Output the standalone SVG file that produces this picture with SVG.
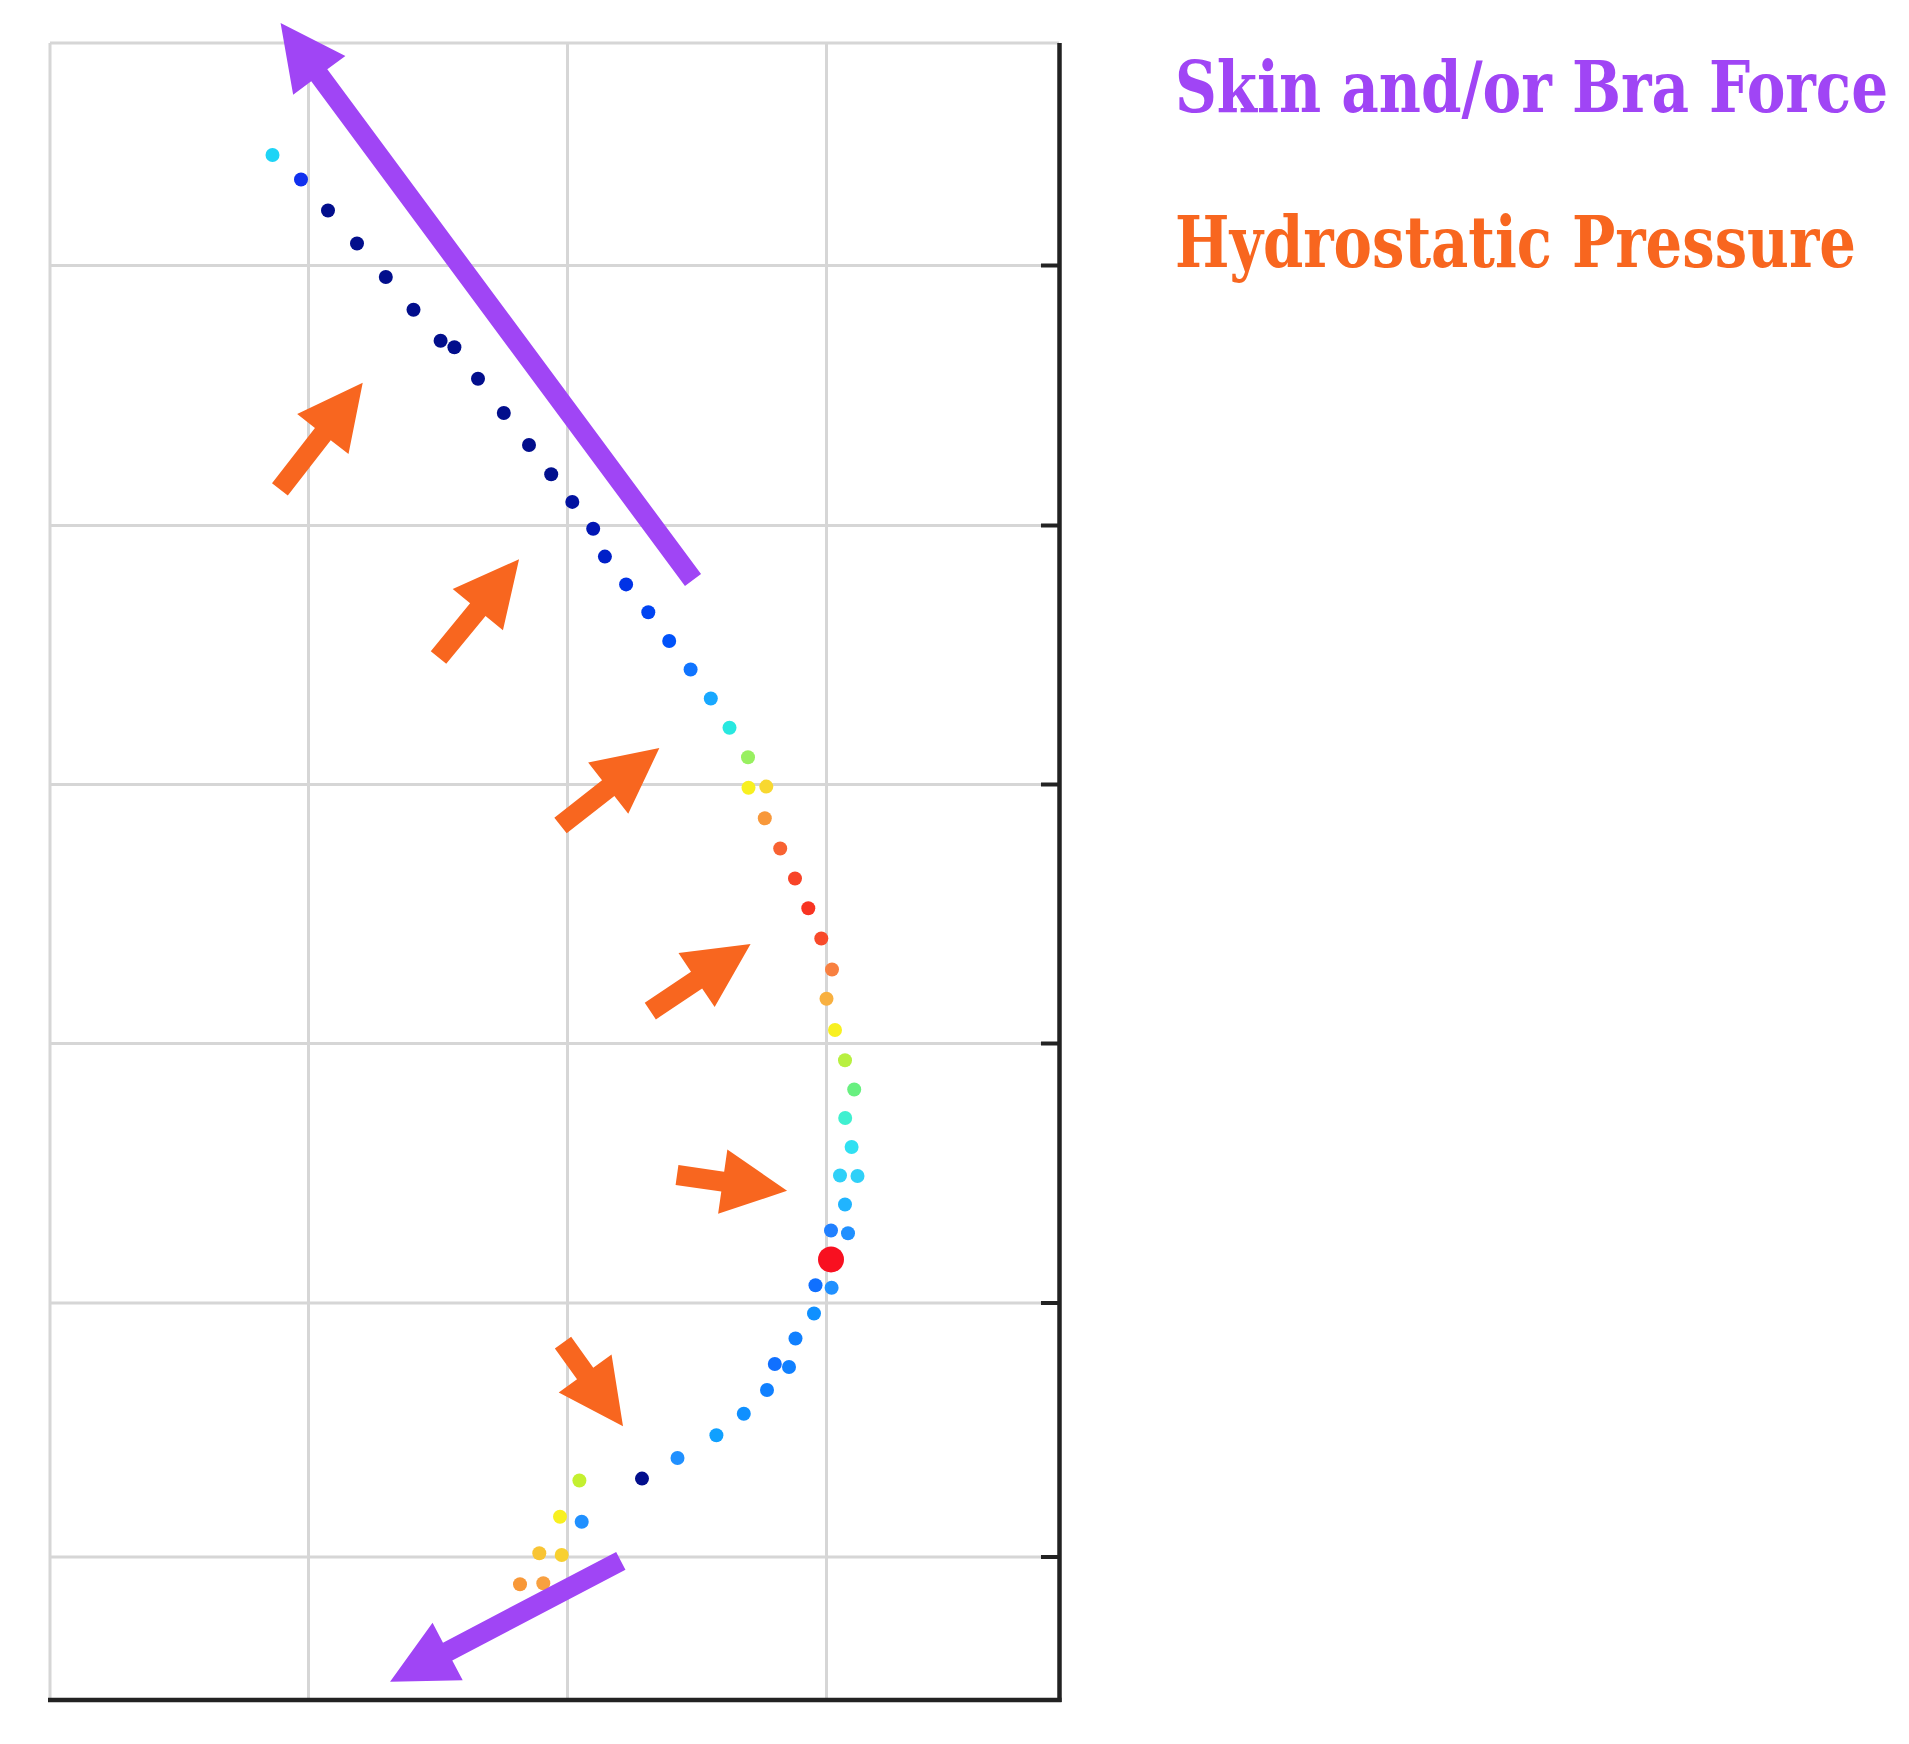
<svg xmlns="http://www.w3.org/2000/svg" width="1909" height="1744" viewBox="0 0 1909 1744">
  <style>
    .grid { stroke: #d6d6d6; stroke-width: 3; fill: none; }
    .axis { stroke: #222222; stroke-width: 4.5; fill: none; }
    .tick { stroke: #222222; stroke-width: 4; }
    .force { fill: #a045f5; }
    .press { fill: #f8661f; }
    .lbl { font-family: "DejaVu Serif Condensed", "DejaVu Serif", serif; font-weight: bold; font-size: 64px; }
  </style>
  <rect width="1909" height="1744" fill="#ffffff"/>

  <g id="grid">
    <line class="grid" x1="50" y1="43" x2="1059" y2="43"/>
    <line class="grid" x1="50" y1="43" x2="50" y2="1700"/>
    <line class="grid" x1="308.5" y1="43" x2="308.5" y2="1700"/>
    <line class="grid" x1="567.5" y1="43" x2="567.5" y2="1700"/>
    <line class="grid" x1="826.5" y1="43" x2="826.5" y2="1700"/>
    <line class="grid" x1="50" y1="265.5" x2="1059" y2="265.5"/>
    <line class="grid" x1="50" y1="525.5" x2="1059" y2="525.5"/>
    <line class="grid" x1="50" y1="784.5" x2="1059" y2="784.5"/>
    <line class="grid" x1="50" y1="1043.5" x2="1059" y2="1043.5"/>
    <line class="grid" x1="50" y1="1303" x2="1059" y2="1303"/>
    <line class="grid" x1="50" y1="1557" x2="1059" y2="1557"/>
  </g>

  <g id="axes">
    <line class="axis" x1="1059.5" y1="43" x2="1059.5" y2="1702"/>
    <line class="axis" x1="48" y1="1700" x2="1061.5" y2="1700"/>
    <line class="tick" x1="1041" y1="265.5" x2="1059" y2="265.5"/>
    <line class="tick" x1="1041" y1="525.5" x2="1059" y2="525.5"/>
    <line class="tick" x1="1041" y1="784.5" x2="1059" y2="784.5"/>
    <line class="tick" x1="1041" y1="1043.5" x2="1059" y2="1043.5"/>
    <line class="tick" x1="1041" y1="1303" x2="1059" y2="1303"/>
    <line class="tick" x1="1041" y1="1557" x2="1059" y2="1557"/>
  </g>

  <g id="dots">
    <circle cx="272.5" cy="155" r="7" fill="#1ed4f6"/>
    <circle cx="301" cy="179.5" r="7" fill="#1030ee"/>
    <circle cx="328" cy="210.5" r="7" fill="#020e8c"/>
    <circle cx="357" cy="243.5" r="7" fill="#020e8c"/>
    <circle cx="385.8" cy="277" r="7" fill="#020e8c"/>
    <circle cx="413.5" cy="309.8" r="7" fill="#020e8c"/>
    <circle cx="440.6" cy="340.8" r="7" fill="#020e8c"/>
    <circle cx="454.4" cy="347.3" r="7" fill="#020e8c"/>
    <circle cx="478" cy="378.8" r="7" fill="#020e8c"/>
    <circle cx="503.8" cy="413" r="7" fill="#020e8c"/>
    <circle cx="529" cy="445" r="7" fill="#020e8c"/>
    <circle cx="551.2" cy="474.2" r="7" fill="#02108e"/>
    <circle cx="572.3" cy="501.9" r="7" fill="#0212a0"/>
    <circle cx="593.2" cy="528.7" r="7" fill="#0216b4"/>
    <circle cx="604.9" cy="556.6" r="7" fill="#0020c8"/>
    <circle cx="626.1" cy="584.4" r="7" fill="#0032e6"/>
    <circle cx="648.3" cy="612.2" r="7" fill="#0044f2"/>
    <circle cx="669.2" cy="641" r="7" fill="#0052fa"/>
    <circle cx="690.6" cy="669.5" r="7" fill="#1074ff"/>
    <circle cx="710.8" cy="698.5" r="7" fill="#18a8ff"/>
    <circle cx="729.5" cy="727.8" r="7" fill="#28e8e0"/>
    <circle cx="748" cy="757.3" r="7" fill="#98f060"/>
    <circle cx="748.5" cy="787.7" r="7" fill="#f8f020"/>
    <circle cx="766.3" cy="786.6" r="7" fill="#f8d830"/>
    <circle cx="764.8" cy="818.2" r="7" fill="#f8983a"/>
    <circle cx="780.2" cy="848.5" r="7" fill="#f86232"/>
    <circle cx="795" cy="878.5" r="7" fill="#f84428"/>
    <circle cx="808.3" cy="908.3" r="7" fill="#f83422"/>
    <circle cx="821.3" cy="938.5" r="7" fill="#f84a2a"/>
    <circle cx="832" cy="969.5" r="7" fill="#f88040"/>
    <circle cx="826.5" cy="998.8" r="7" fill="#f8b040"/>
    <circle cx="835" cy="1030" r="7" fill="#f8f020"/>
    <circle cx="845" cy="1060.3" r="7" fill="#b8f040"/>
    <circle cx="854.2" cy="1089.5" r="7" fill="#68f080"/>
    <circle cx="845.2" cy="1118" r="7" fill="#40f0d0"/>
    <circle cx="851.6" cy="1147" r="7" fill="#30e0f2"/>
    <circle cx="840" cy="1175.5" r="7" fill="#30d0f8"/>
    <circle cx="857.5" cy="1176" r="7" fill="#30d0f8"/>
    <circle cx="845" cy="1204.5" r="7" fill="#20b4ff"/>
    <circle cx="831" cy="1230.5" r="7" fill="#2080ff"/>
    <circle cx="848" cy="1233.3" r="7" fill="#2090ff"/>
    <circle cx="815.5" cy="1285.3" r="7" fill="#1070ff"/>
    <circle cx="831.6" cy="1287.8" r="7" fill="#2090ff"/>
    <circle cx="831" cy="1259.5" r="13" fill="#f81020"/>
    <circle cx="814" cy="1313.5" r="7" fill="#1090ff"/>
    <circle cx="795.5" cy="1338.5" r="7" fill="#1080ff"/>
    <circle cx="774.8" cy="1364" r="7" fill="#1070ff"/>
    <circle cx="789" cy="1367" r="7" fill="#1080ff"/>
    <circle cx="767" cy="1390" r="7" fill="#1080ff"/>
    <circle cx="743.8" cy="1413.7" r="7" fill="#1090ff"/>
    <circle cx="716.4" cy="1435.2" r="7" fill="#10a0ff"/>
    <circle cx="677.5" cy="1458" r="7" fill="#2090ff"/>
    <circle cx="642" cy="1478.6" r="7" fill="#020e8c"/>
    <circle cx="579.4" cy="1480.5" r="7" fill="#c4f030"/>
    <circle cx="560" cy="1516.7" r="7" fill="#f8f020"/>
    <circle cx="581.7" cy="1521.7" r="7" fill="#2090ff"/>
    <circle cx="539.3" cy="1553.3" r="7" fill="#f8c434"/>
    <circle cx="561.7" cy="1555" r="7" fill="#f8d030"/>
    <circle cx="520" cy="1584.3" r="7" fill="#f89838"/>
    <circle cx="543.3" cy="1583.3" r="7" fill="#f8a040"/>
  </g>

  <g id="connectors">
    <polygon id="force-top" class="force" points="0,-10 628,-10 628,-32.5 693,0 628,32.5 628,10 0,10" transform="translate(693,580) rotate(-126.52)"/>
    <polygon id="force-bottom" class="force" points="0,-10 195.5,-10 195.5,-32.5 260.5,0 195.5,32.5 195.5,10 0,10" transform="translate(620.8,1560.8) rotate(152.35)"/>
    <polygon id="press-1" class="press" points="0,-10 70,-10 70,-32.5 135,0 70,32.5 70,10 0,10" transform="translate(279.9,489.3) rotate(-52.16)"/>
    <polygon id="press-2" class="press" points="0,-10 62,-10 62,-32.5 127,0 62,32.5 62,10 0,10" transform="translate(438.5,657.5) rotate(-50.63)"/>
    <polygon id="press-3" class="press" points="0,-10 60.6,-10 60.6,-32.5 125.6,0 60.6,32.5 60.6,10 0,10" transform="translate(560.5,825.5) rotate(-38.08)"/>
    <polygon id="press-4" class="press" points="0,-10 55.7,-10 55.7,-32.5 120.7,0 55.7,32.5 55.7,10 0,10" transform="translate(650.3,1011.1) rotate(-33.82)"/>
    <polygon id="press-5" class="press" points="0,-10 46.2,-10 46.2,-32.5 111.2,0 46.2,32.5 46.2,10 0,10" transform="translate(677,1175) rotate(8.17)"/>
    <polygon id="press-6" class="press" points="0,-10 38,-10 38,-32.5 103,0 38,32.5 38,10 0,10" transform="translate(563,1342.6) rotate(54.36)"/>
  </g>

  <g id="legend-force" transform="translate(1175,112) scale(1,1.12)">
    <text class="lbl force" x="0" y="0" textLength="713" lengthAdjust="spacingAndGlyphs">Skin and/or Bra Force</text>
  </g>
  <g id="legend-pressure" transform="translate(1175,267) scale(1,1.12)">
    <text class="lbl press" x="0" y="0" textLength="681" lengthAdjust="spacingAndGlyphs">Hydrostatic Pressure</text>
  </g>
</svg>
